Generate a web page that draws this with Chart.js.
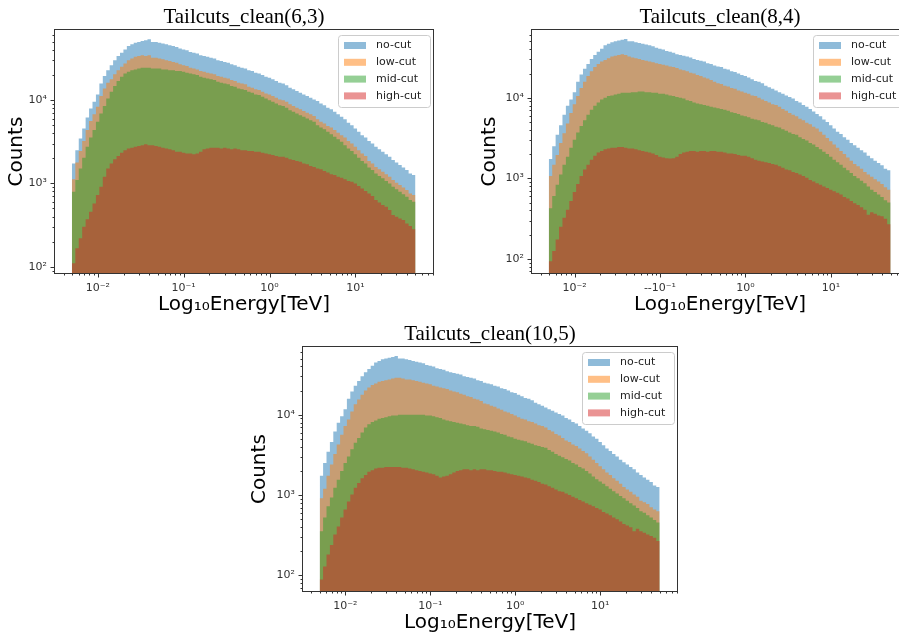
<!DOCTYPE html>
<html>
<head>
<meta charset="utf-8">
<script src="https://cdn.jsdelivr.net/npm/chart.js"></script>
<style>
html,body{margin:0;padding:0;background:#fff;width:899px;height:632px;overflow:hidden;position:relative}
canvas{position:absolute}
</style>
</head>
<body>
<canvas id="c1" width="450" height="320" style="left:0px;top:0px"></canvas>
<canvas id="c2" width="449" height="320" style="left:477px;top:0px"></canvas>
<canvas id="c3" width="446" height="321" style="left:248px;top:317px"></canvas>
<script>
// ---------- data ----------
const binEdgeMin = 0.005, binEdgeMax = 50, binCount = 100;
const seriesNames = ['no-cut', 'low-cut', 'mid-cut', 'high-cut'];
const panelTitles = ['Tailcuts_clean(6,3)', 'Tailcuts_clean(8,4)', 'Tailcuts_clean(10,5)'];
const xTickValues = [0.01, 0.1, 1, 10];
const xTickLabels = ['10⁻²', '10⁻¹', '10⁰', '10¹'];
const xTickLabelsPanel2 = ['10⁻²', '--10⁻¹', '10⁰', '10¹'];
const yTickValues = [100, 1000, 10000];
const yTickLabels = ['10²', '10³', '10⁴'];
const xAxisTitle = 'Log₁₀Energy[TeV]';
const yAxisTitle = 'Counts';

// no-cut is the same sample in all three panels
const noCut = [1740,2510,3470,4570,6170,7940,9550,11700,15800,19500,
  22900,26300,30200,33900,37200,40700,44700,46800,49000,50100,
  51300,52500,53700,50100,50100,49000,47900,46800,45700,44700,
  43600,41700,40700,39800,38000,37200,36300,34700,33900,33100,
  32400,31600,30200,29500,28800,28200,26900,26300,25100,24500,
  24000,22900,22400,21400,20900,20000,19100,18600,17800,17000,
  16200,15800,15100,14100,13500,12900,12300,11700,11200,10700,
  10200,9770,9120,8710,8130,7760,7240,6760,6310,5890,
  5370,5010,4570,4170,3800,3550,3240,3020,2750,2570,
  2400,2240,2090,1910,1780,1660,1550,1450,1320,1260];

// Tailcuts_clean(6,3)
const lowCut63 = [1120,1780,2450,3240,4370,5620,6760,8320,11200,13800,
  16200,17800,20400,22900,25100,27500,30200,31600,33100,33900,
  34700,33900,34700,32400,32400,31600,30900,30200,29500,28800,
  28200,26900,26300,25700,24500,24000,23400,22400,21900,21400,
  20900,20400,19500,19100,18600,18200,17400,17000,16200,15800,
  15500,14500,14100,13500,13200,12600,12000,11700,11200,10700,
  10200,10000,9550,8910,8510,8130,7760,7410,7080,6760,
  6460,5890,5500,5250,4900,4680,4370,4070,3800,3550,
  3240,3020,2750,2510,2290,2140,1860,1740,1580,1480,
  1380,1290,1200,1100,1020,955,891,832,759,724];
const midCut63 = [794,1100,1510,2040,2750,3550,4370,5500,6920,8510,
  10500,12600,14800,17000,19100,20900,21900,22900,23400,24000,
  24500,24500,24500,24000,24000,24000,23400,23400,22900,22900,
  22400,22400,21900,21400,20900,20400,20000,19100,18600,18200,
  17800,17400,16600,16200,15800,15500,14800,14500,13800,13500,
  13200,12600,12300,11700,11500,11000,10500,10000,9550,9120,
  8710,8510,8130,7590,7240,6920,6610,6310,6030,5750,
  5500,5010,4680,4470,4170,3890,3630,3390,3160,2880,
  2630,2450,2240,2040,1860,1740,1550,1450,1320,1230,
  1150,1070,1000,912,851,794,741,692,631,603];
const highCut63 = [110,166,219,302,372,457,575,724,912,1200,
  1510,1740,1950,2140,2340,2510,2630,2690,2750,2820,
  2880,2950,2880,2880,2820,2750,2690,2630,2570,2510,
  2400,2400,2340,2290,2290,2240,2290,2400,2570,2630,
  2690,2690,2690,2630,2690,2630,2570,2630,2570,2510,
  2510,2450,2450,2400,2400,2340,2290,2240,2190,2140,
  2090,2090,2040,1950,1910,1860,1820,1740,1700,1620,
  1580,1510,1480,1410,1350,1290,1260,1200,1170,1120,
  1070,1050,1000,933,871,813,759,708,631,589,
  550,525,479,417,398,380,363,331,309,282];

// Tailcuts_clean(8,4)
const lowCut84 = [1070,1480,1950,2750,3630,4790,6460,8320,10500,13200,
  15800,18600,21400,24000,26300,28200,29500,30900,32400,33100,
  33900,34700,33900,32400,31600,30900,30200,29500,28800,28200,
  27500,26900,26300,25700,25100,24500,24000,23400,22400,21900,
  21400,20400,20000,19100,18600,17800,17400,16600,15800,15100,
  14800,14100,13800,13200,12900,12300,12000,11500,11200,10700,
  10500,10000,9550,9120,8710,8320,8130,7760,7240,6920,
  6460,6170,5890,5500,5250,4900,4680,4370,4170,3800,
  3470,3160,2880,2630,2400,2190,2000,1820,1660,1510,
  1410,1320,1200,1120,1050,977,912,851,776,724];
const midCut84 = [427,603,832,1120,1480,1860,2400,3020,3720,4470,
  5250,6170,7080,7940,8710,9550,10000,10500,10700,11000,
  11200,11500,11500,11500,11700,11700,12000,12000,11700,11700,
  11500,11500,11200,11200,11000,10700,10500,10200,10000,9770,
  9330,9120,8710,8510,8320,8130,7940,7760,7590,7410,
  7240,7080,6920,6610,6460,6310,6030,5890,5750,5500,
  5370,5250,5010,4900,4680,4570,4370,4270,4070,3890,
  3720,3550,3470,3240,3090,2950,2750,2630,2450,2290,
  2140,2000,1860,1700,1580,1480,1350,1260,1170,1070,
  1000,933,871,794,724,676,631,589,537,501];
const highCut84 = [94,126,174,251,324,407,525,676,851,1070,
  1290,1480,1700,1910,2090,2190,2290,2340,2400,2400,
  2450,2450,2400,2340,2340,2290,2240,2190,2140,2090,
  2040,1950,1860,1820,1780,1760,1780,1860,2000,2090,
  2140,2190,2190,2140,2190,2190,2140,2190,2190,2140,
  2140,2090,2040,2040,2000,1950,1910,1910,1860,1780,
  1700,1660,1620,1580,1550,1510,1480,1410,1350,1290,
  1260,1200,1170,1120,1070,1020,955,912,871,832,
  794,759,724,692,661,631,589,562,525,490,
  468,437,407,355,380,363,347,339,316,269];

// Tailcuts_clean(10,5)
const lowCut105 = [912,1200,1740,2400,3240,4270,5620,7240,8710,11000,
  13500,15500,17800,20000,21900,23400,24500,25700,26300,26900,
  27500,28200,28800,28800,28200,27500,27500,26900,26300,25700,
  25100,24500,24000,22900,22400,21900,21400,20900,20000,19500,
  19100,18200,17800,17000,16600,15800,15500,14800,13800,13500,
  12900,12600,12000,11500,11000,10700,10200,9770,9330,8910,
  8710,8320,8130,7760,7410,7240,6920,6460,6170,5750,
  5500,5130,4790,4570,4270,4070,3800,3550,3310,3020,
  2750,2510,2290,2090,1910,1780,1620,1510,1380,1260,
  1170,1100,1020,955,851,813,776,708,661,631];
const midCut105 = [355,525,724,933,1230,1550,2000,2510,3020,3720,
  4470,5130,6030,6920,7590,8130,8510,8910,9120,9330,
  9550,9770,9770,10000,10000,10000,10000,10000,10000,10000,
  10000,9770,9770,9550,9330,9120,8710,8510,8320,8130,
  7940,7760,7590,7410,7240,7240,7080,6760,6610,6460,
  6310,6170,6030,5750,5620,5370,5250,5010,4900,4790,
  4680,4470,4370,4170,4070,3980,3890,3630,3470,3240,
  3090,2950,2820,2690,2510,2400,2240,2140,2000,1860,
  1700,1580,1480,1380,1290,1200,1120,1050,977,912,
  851,794,741,692,631,603,562,525,490,457];
const highCut105 = [89,129,182,240,324,407,525,661,832,1020,
  1230,1410,1620,1780,1950,2040,2140,2190,2190,2240,
  2240,2240,2240,2240,2190,2190,2140,2090,2040,2000,
  1950,1910,1860,1820,1740,1660,1700,1740,1820,1910,
  2000,2040,2090,2090,2040,2090,2040,2090,2090,2040,
  2040,2000,1950,1950,1910,1860,1820,1780,1740,1700,
  1660,1620,1550,1510,1450,1380,1350,1290,1230,1170,
  1120,1100,1050,1000,955,912,871,832,794,759,
  724,692,661,617,589,562,525,501,468,437,
  417,398,355,380,355,339,324,309,295,269];

// ---------- styling / layout ----------
const seriesRGB = ['31,119,180', '255,127,14', '44,160,44', '214,39,40'];

const panels = [
  {canvas: 'c1', title: panelTitles[0], series: [noCut, lowCut63, midCut63, highCut63],
   yMin: 84, yMax: 69200, xLabels: xTickLabels, yTitlePad: 5, padRight: 17},
  {canvas: 'c2', title: panelTitles[1], series: [noCut, lowCut84, midCut84, highCut84],
   yMin: 67, yMax: 68900, xLabels: xTickLabelsPanel2, yTitlePad: 1, padRight: 18},
  {canvas: 'c3', title: panelTitles[2], series: [noCut, lowCut105, midCut105, highCut105],
   yMin: 64, yMax: 69300, xLabels: xTickLabels, yTitlePad: 0, padRight: 17}
];

const binEdges = [];
for (let i = 0; i <= binCount; i++) {
  binEdges.push(binEdgeMin * Math.pow(binEdgeMax / binEdgeMin, i / binCount));
}

function histPoints(values) {
  return binEdges.map((e, i) => ({x: e, y: values[Math.min(i, values.length - 1)]}));
}

const decorPlugin = {
  id: 'decor',
  afterDraw(chart) {
    const {ctx, chartArea: a} = chart;
    const xs = chart.scales.x, ys = chart.scales.y;
    ctx.save();
    ctx.strokeStyle = '#333';
    ctx.lineWidth = 1;
    ctx.beginPath();
    for (let e = -4; e <= 5; e++) {
      for (let m = 1; m <= 9; m++) {
        const v = m * Math.pow(10, e);
        const len = m === 1 ? 4.5 : 2.5;
        if (v >= xs.min && v <= xs.max) {
          const px = Math.round(xs.getPixelForValue(v)) + 0.5;
          ctx.moveTo(px, a.bottom);
          ctx.lineTo(px, a.bottom + len);
        }
        if (v >= ys.min && v <= ys.max) {
          const py = Math.round(ys.getPixelForValue(v)) + 0.5;
          ctx.moveTo(a.left, py);
          ctx.lineTo(a.left - len, py);
        }
      }
    }
    ctx.stroke();
    ctx.strokeRect(Math.round(a.left) - 0.5, Math.round(a.top) - 0.5,
                   Math.round(a.right - a.left) + 1, Math.round(a.bottom - a.top) + 1);

    // legend (upper right, inside axes)
    const w = 92, h = 72, r = 3;
    const x0 = Math.round(a.right - 3 - w) + 0.5, y0 = Math.round(a.top + 5) + 0.5;
    ctx.beginPath();
    ctx.moveTo(x0 + r, y0);
    ctx.lineTo(x0 + w - r, y0);
    ctx.arcTo(x0 + w, y0, x0 + w, y0 + r, r);
    ctx.lineTo(x0 + w, y0 + h - r);
    ctx.arcTo(x0 + w, y0 + h, x0 + w - r, y0 + h, r);
    ctx.lineTo(x0 + r, y0 + h);
    ctx.arcTo(x0, y0 + h, x0, y0 + h - r, r);
    ctx.lineTo(x0, y0 + r);
    ctx.arcTo(x0, y0, x0 + r, y0, r);
    ctx.closePath();
    ctx.fillStyle = 'rgba(255,255,255,0.8)';
    ctx.fill();
    ctx.strokeStyle = '#cccccc';
    ctx.stroke();
    ctx.font = '11px "DejaVu Sans"';
    ctx.textBaseline = 'middle';
    ctx.textAlign = 'left';
    for (let i = 0; i < seriesNames.length; i++) {
      const cy = y0 + 10 + i * 16.8;
      ctx.fillStyle = 'rgba(' + seriesRGB[i] + ',0.5)';
      ctx.fillRect(x0 + 5.5, cy - 3.5, 22, 7);
      ctx.fillStyle = '#222';
      ctx.fillText(seriesNames[i], x0 + 37.5, cy);
    }
    ctx.restore();
  }
};

panels.forEach(p => {
  const datasets = p.series.map((vals, i) => ({
    label: seriesNames[i],
    data: histPoints(vals),
    stepped: 'before',
    fill: 'start',
    backgroundColor: 'rgba(' + seriesRGB[i] + ',0.5)',
    borderColor: 'rgba(0,0,0,0)',
    borderWidth: 0,
    pointRadius: 0,
    order: 3 - i
  }));
  new Chart(document.getElementById(p.canvas), {
    type: 'line',
    data: {datasets},
    plugins: [decorPlugin],
    options: {
      responsive: false,
      animation: false,
      devicePixelRatio: 1,
      events: [],
      layout: {padding: {left: 0, right: p.padRight, top: 0, bottom: 0}},
      plugins: {
        legend: {display: false},
        tooltip: {enabled: false},
        title: {
          display: true, text: p.title, fullSize: false, color: '#000',
          font: {family: '"Liberation Serif", serif', size: 21, weight: 'normal'},
          padding: {top: 5, bottom: 0}
        }
      },
      scales: {
        x: {
          type: 'logarithmic', min: 0.00318, max: 80,
          afterBuildTicks: s => { s.ticks = xTickValues.map(v => ({value: v})); },
          afterFit: s => { s.height = 47; },
          grid: {display: false, drawTicks: false},
          border: {display: false},
          ticks: {
            autoSkip: false, maxRotation: 0, minRotation: 0, padding: 9, color: '#333',
            font: {family: '"DejaVu Sans"', size: 11},
            callback: (v, i) => p.xLabels[i]
          },
          title: {display: true, text: xAxisTitle, color: '#000',
                  font: {family: '"DejaVu Sans"', size: 20}, padding: {top: 0, bottom: 3}}
        },
        y: {
          type: 'logarithmic', min: p.yMin, max: p.yMax,
          afterBuildTicks: s => { s.ticks = yTickValues.map(v => ({value: v})); },
          afterFit: s => { s.width = 55; },
          grid: {display: false, drawTicks: false},
          border: {display: false},
          ticks: {
            autoSkip: false, padding: 8, color: '#333',
            font: {family: '"DejaVu Sans"', size: 11},
            callback: (v, i) => yTickLabels[i]
          },
          title: {display: true, text: yAxisTitle, color: '#000',
                  font: {family: '"DejaVu Sans"', size: 20}, padding: {top: p.yTitlePad, bottom: 0}}
        }
      }
    }
  });
});
</script>
</body>
</html>
